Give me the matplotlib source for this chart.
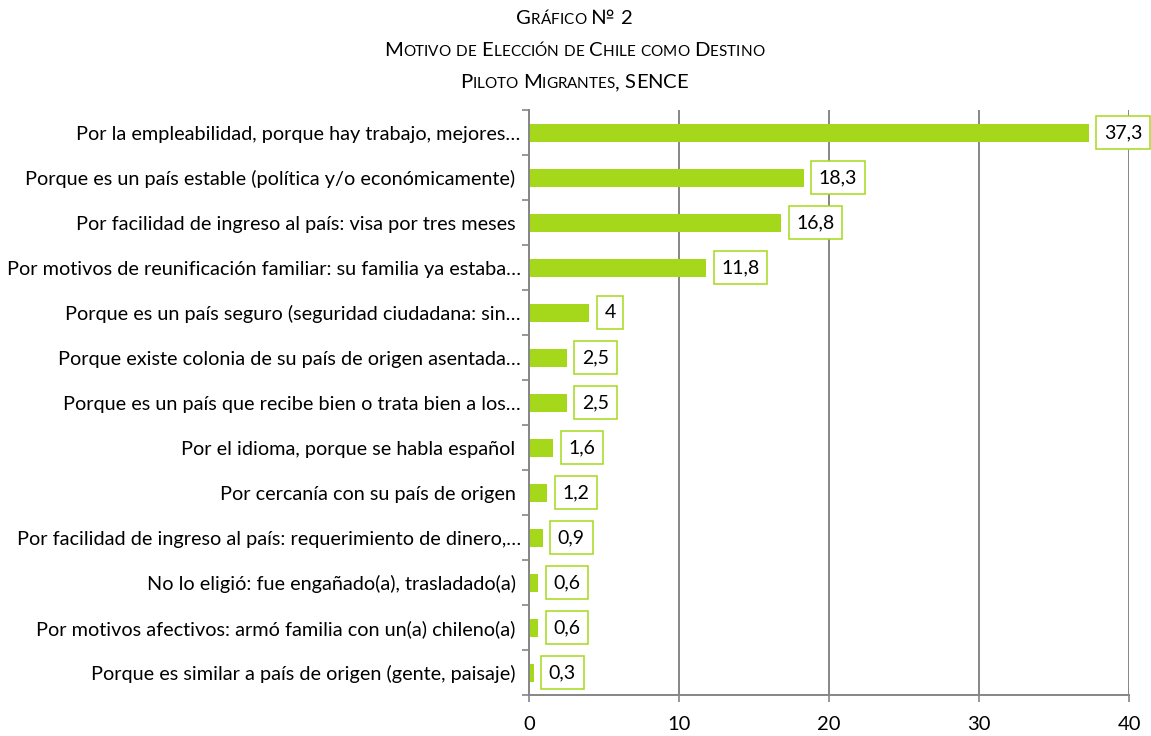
import matplotlib.pyplot as plt
from matplotlib.offsetbox import TextArea, HPacker, AnnotationBbox
import numpy as np

plt.rcParams['font.family'] = ['Lato', 'DejaVu Sans']

motivos = [
    "Por la empleabilidad, porque hay trabajo, mejores…",
    "Porque es un país estable (política y/o económicamente) ",
    "Por facilidad de ingreso al país: visa por tres meses ",
    "Por motivos de reunificación familiar: su familia ya estaba…",
    "Porque es un país seguro (seguridad ciudadana: sin…",
    "Porque existe colonia de su país de origen asentada…",
    "Porque es un país que recibe bien o trata bien a los…",
    "Por el idioma, porque se habla español ",
    "Por cercanía con su país de origen ",
    "Por facilidad de ingreso al país: requerimiento de dinero,…",
    "No lo eligió: fue engañado(a), trasladado(a) ",
    "Por motivos afectivos: armó familia con un(a) chileno(a) ",
    "Porque es similar a país de origen (gente, paisaje) ",
]
porcentajes = [37.3, 18.3, 16.8, 11.8, 4, 2.5, 2.5, 1.6, 1.2, 0.9, 0.6, 0.6, 0.3]
xticks = [0, 10, 20, 30, 40]
titulo = ["Gráfico № 2",
          "Motivo de Elección de Chile como Destino",
          "Piloto Migrantes, SENCE"]

verde = "#a5d81b"
gris = "#868686"

fig = plt.figure(figsize=(11.51, 7.36), dpi=100)
ax = fig.add_axes([0.4596, 0.0557, 0.5214, 0.7948])

y = np.arange(len(motivos))
ax.barh(y, porcentajes, height=0.4, color=verde, zorder=2)
ax.set_ylim(len(motivos) - 0.5, -0.5)
ax.set_xlim(0, 40)
ax.set_xticks(xticks)
ax.set_xticklabels([str(t) for t in xticks], fontsize=14.5)
ax.set_yticks(y)
ax.set_yticklabels(motivos, fontsize=14.3)
ax.set_yticks(np.arange(len(motivos) + 1) - 0.5, minor=True)
ax.tick_params(axis='y', which='major', length=0, pad=6)
ax.tick_params(axis='y', which='minor', length=5, color=gris, width=1.2)
ax.tick_params(axis='x', length=5, color=gris, width=1.2, pad=10)
ax.grid(axis='x', color=gris, lw=1.4, zorder=0)
for s in ['top', 'right']:
    ax.spines[s].set_visible(False)
for s in ['left', 'bottom']:
    ax.spines[s].set_color(gris)
    ax.spines[s].set_linewidth(1.4)

for yi, v in zip(y, porcentajes):
    txt = f"{v:g}".replace(".", ",")
    ax.annotate(txt, (v, yi), xytext=(11, 0), textcoords='offset points',
                va='center', ha='left', fontsize=14, zorder=5,
                bbox=dict(boxstyle='square,pad=0.4', fc='white', ec=verde, lw=1.1))


# title in small caps: capitals at full size, lowercase uppercased and smaller
def small_caps(texto, grande=14.6, chica=11):
    partes = []
    for c in texto:
        mayus = c.isupper() or not c.isalpha()
        size = grande if mayus else chica
        partes.append(TextArea(c.upper(), textprops=dict(fontsize=size, color='black')))
    return HPacker(children=partes, align='baseline', pad=0, sep=0)


for i, linea in enumerate(titulo):
    box = small_caps(linea)
    ab = AnnotationBbox(box, (574 / 1151, 1 - (19 + 32 * i) / 736),
                        xycoords='figure fraction', frameon=False, box_alignment=(0.5, 0.5))
    fig.add_artist(ab)

fig.savefig("out.png", dpi=100)
